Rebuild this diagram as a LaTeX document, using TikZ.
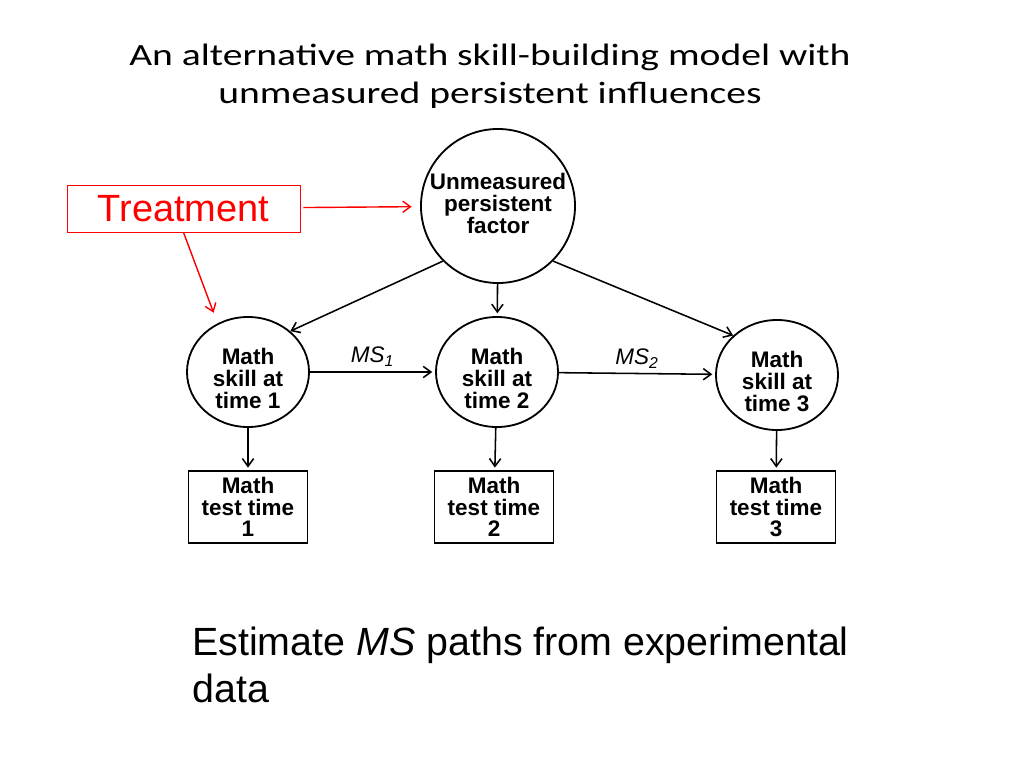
\documentclass[tikz,border=0pt]{standalone}
\usepackage{fontspec}
\setmainfont{Liberation Sans}
\newfontfamily\titlefont[FakeStretch=1.28]{Carlito}
\usetikzlibrary{shapes.geometric,arrows.meta}
\tikzset{
  >={Straight Barb[length=5.5pt,width=8pt]},
  latent/.style={draw,circle,line width=1.3pt,minimum size=3.85cm,inner sep=0pt,align=center,
    execute at begin node=\rule[-4pt]{0pt}{4pt},font=\bfseries\fontsize{16}{15.5}\selectfont},
  skill/.style={draw,ellipse,line width=1.3pt,minimum width=3.05cm,minimum height=2.75cm,inner sep=0pt,align=center,
    execute at begin node=\rule{0pt}{52pt},font=\bfseries\fontsize{16}{15.5}\selectfont},
  test/.style={draw,rectangle,line width=0.8pt,minimum width=2.975cm,minimum height=1.8cm,inner sep=0pt,align=center,
    font=\bfseries\fontsize{16}{15.5}\selectfont},
  arr/.style={->,line width=1.1pt},
  redarr/.style={->,line width=1pt,red},
  pathlabel/.style={above,font=\itshape\fontsize{16}{16}\selectfont}
}
\begin{document}
\begin{tikzpicture}[x=0.025cm,y=-0.025cm]
  \useasboundingbox (0,0) rectangle (1024,768);
  % title
  \node[align=center,font=\titlefont\fontsize{22}{27}\selectfont] (title) at (490,76)
    {An alternative math skill-building model with\\unmeasured persistent influences};
  % nodes
  \node[latent] (unm) at (498,206) {Unmeasured\\persistent\\factor};
  \node[draw=red,line width=0.6pt,minimum width=5.825cm,minimum height=1.175cm,text=red,
    font=\fontsize{27}{30}\selectfont] (treat) at (183.5,208.5) {Treatment};
  \node[skill] (m1) at (248,372) {Math\\skill at\\time 1};
  \node[skill] (m2) at (497,372) {Math\\skill at\\time 2};
  \node[skill] (m3) at (777,375) {Math\\skill at\\time 3};
  \node[test] (t1) at (248,507) {Math\\test time\\1};
  \node[test] (t2) at (494,507) {Math\\test time\\2};
  \node[test] (t3) at (776,507) {Math\\test time\\3};
  % note
  \node[anchor=base west,align=left,inner sep=0pt,font=\fontsize{28}{33.4}\selectfont] (note) at (192,702)
    {Estimate \textit{MS} paths from experimental\\data};
  % paths
  \begin{scope}[redarr]
    \draw[shorten <=2pt,shorten >=6pt] (treat) -- (unm);
    \draw[shorten >=8pt] (treat.south) -- (m1.122);
  \end{scope}
  \begin{scope}[arr]
    \draw (unm.225) -- (m1.44);
    \draw[shorten >=2pt] (unm) -- (m2);
    \draw (unm.315) -- (m3.138);
    \draw[shorten >=2pt] (m1) -- node[pathlabel] {MS$_{\mathit{1}}$} (m2);
    \draw[shorten >=2pt] (m2) -- node[pathlabel] {MS$_{\mathit{2}}$} (m3);
    \draw[shorten >=2pt] (m1) -- (t1);
    \draw[shorten >=2pt] (m2) -- (t2);
    \draw[shorten >=2pt] (m3) -- (t3);
  \end{scope}
\end{tikzpicture}
\end{document}
